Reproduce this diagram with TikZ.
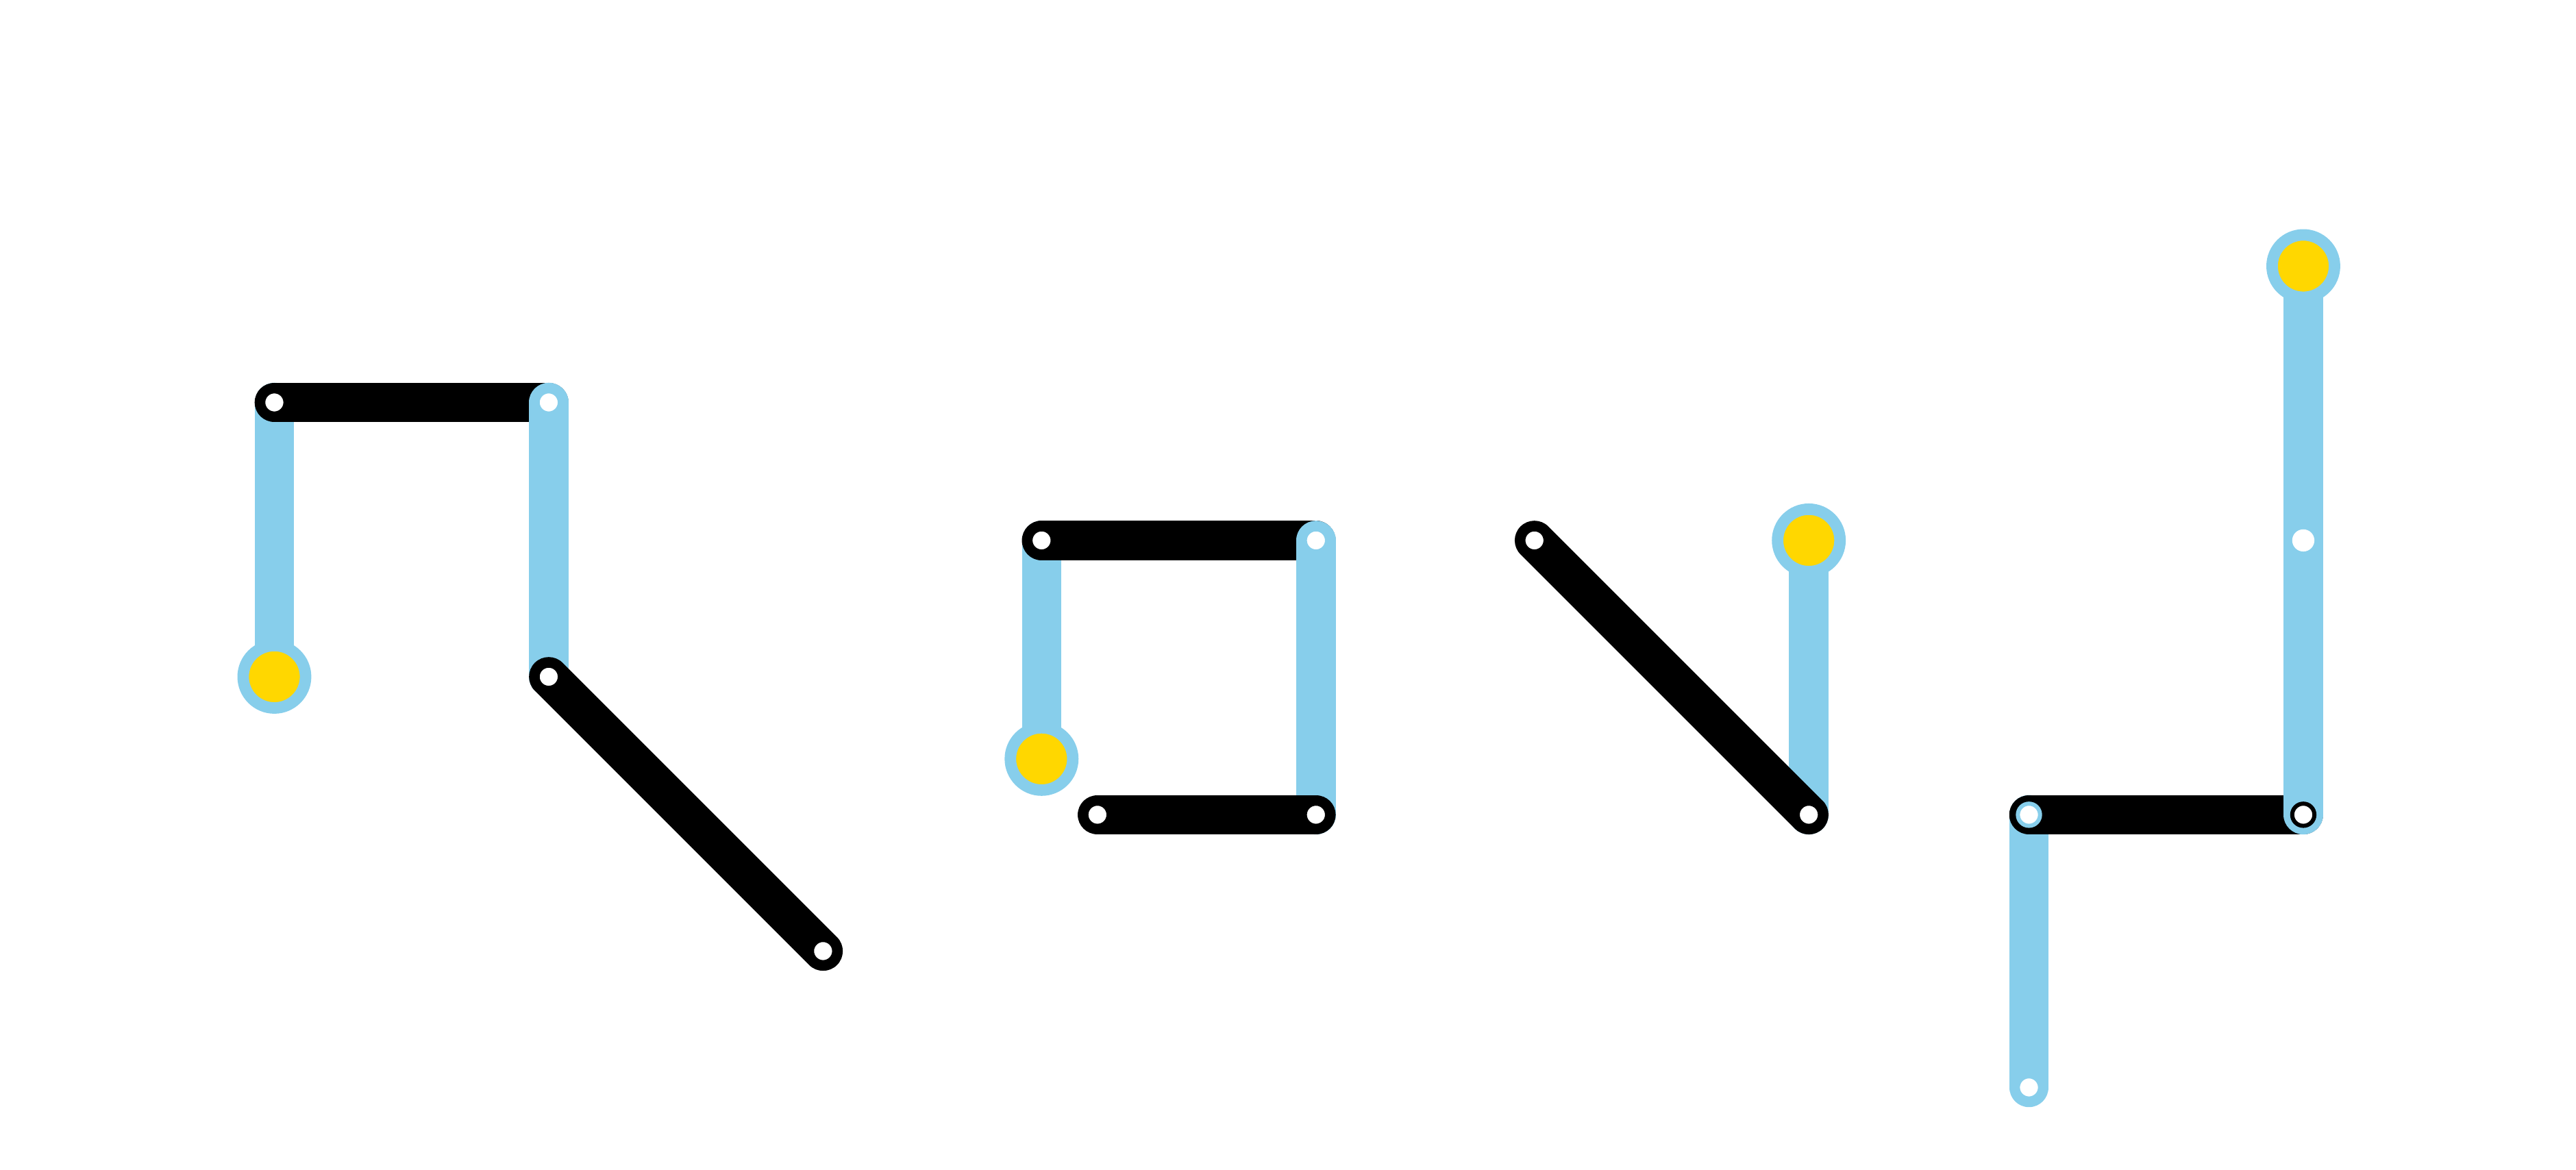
\documentclass[tikz,border=0pt]{standalone}
\begin{document}
\begin{tikzpicture}[x=0.02cm,y=-0.02cm,
 blue/.style={draw={rgb,255:red,135;green,206;blue,235},line width=0.48cm,line cap=round},
 blk/.style={draw=black,line width=0.48cm,line cap=round},
 dot/.style={circle,fill=white,draw=black,line width=0.05cm,minimum size=0.27cm,inner sep=0pt},
 bdot/.style={circle,fill=white,draw={rgb,255:red,135;green,206;blue,235},line width=0.05cm,minimum size=0.27cm,inner sep=0pt},
 ydot/.style={circle,fill={rgb,255:red,255;green,215;blue,0},draw={rgb,255:red,135;green,206;blue,235},line width=0.14cm,minimum size=0.76cm,inner sep=0pt}]
\useasboundingbox (0,0) rectangle (1568,712);
% group 1
\coordinate (a1) at (167,245); \coordinate (a2) at (167,412);
\coordinate (a3) at (334,245); \coordinate (a4) at (334,412);
\coordinate (a5) at (501,579);
\draw[blue] (a2) -- (a1);
\draw[blk] (a1) -- (a3);
\draw[blue] (a3) -- (a4);
\draw[blk] (a4) -- (a5);
\node[dot] at (a1) {}; \node[bdot] at (a3) {}; \node[dot] at (a4) {}; \node[dot] at (a5) {};
\node[ydot] at (a2) {};
% group 2
\coordinate (b1) at (634,329); \coordinate (b2) at (634,462);
\coordinate (b3) at (801,329); \coordinate (b4) at (801,496);
\coordinate (b5) at (668,496);
\draw[blue] (b2) -- (b1);
\draw[blk] (b1) -- (b3);
\draw[blue] (b3) -- (b4);
\draw[blk] (b5) -- (b4);
\node[dot] at (b1) {}; \node[bdot] at (b3) {}; \node[dot] at (b4) {}; \node[dot] at (b5) {};
\node[ydot] at (b2) {};
% group 3
\coordinate (c1) at (934,329); \coordinate (c2) at (1101,496); \coordinate (c3) at (1101,329);
\draw[blue] (c3) -- (c2);
\draw[blk] (c1) -- (c2);
\node[dot] at (c1) {}; \node[dot] at (c2) {};
\node[ydot] at (c3) {};
% group 4
\coordinate (d1) at (1235,662); \coordinate (d2) at (1235,496);
\coordinate (d3) at (1402,496); \coordinate (d4) at (1402,329); \coordinate (d5) at (1402,162);
\draw[blue] (d1) -- (d2);
\draw[blk] (d2) -- (d3);
\draw[blue] (d5) -- (d4) -- (d3);
\node[bdot] at (d1) {}; \node[bdot] at (d2) {}; \node[dot] at (d3) {};
\node[circle,fill=white,minimum size=0.27cm,inner sep=0pt] at (d4) {};
\node[ydot] at (d5) {};
\end{tikzpicture}
\end{document}
